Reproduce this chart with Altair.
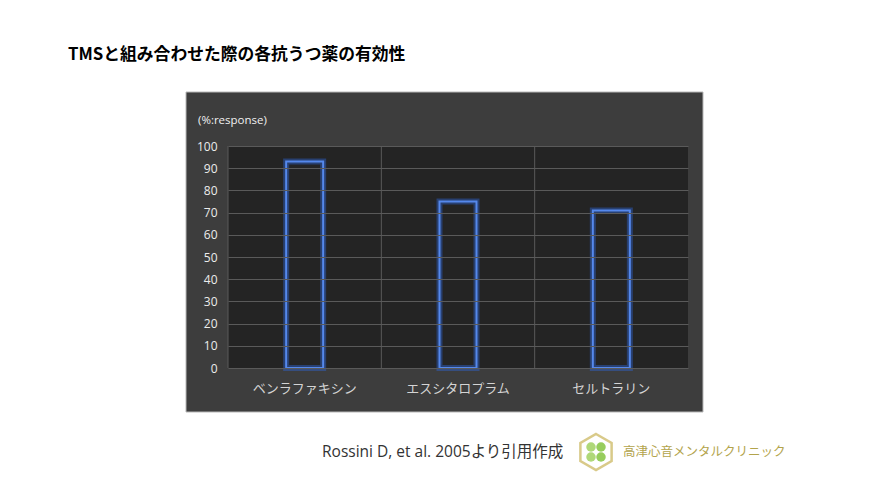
import altair as alt
import pandas as pd

# ---- data ----
drugs = ["ベンラファキシン", "エスシタロプラム", "セルトラリン"]
response = [93, 75, 71]
y_ticks = [0, 10, 20, 30, 40, 50, 60, 70, 80, 90, 100]

title_text = "TMSと組み合わせた際の各抗うつ薬の有効性"
unit_text = "(%:response)"
source_text = "Rossini D, et al. 2005より引用作成"
clinic_text = "高津心音メンタルクリニック"

df = pd.DataFrame({"drug": drugs, "value": response})
one = pd.DataFrame({"a": [0]})

W, H = 460, 222
FONT = "Noto Sans CJK JP"
LFONT = "Open Sans, Noto Sans CJK JP"

xscale = alt.Scale(domain=drugs, paddingInner=0, paddingOuter=0)
xenc = alt.X("drug:N", sort=drugs, scale=xscale,
             axis=alt.Axis(title=None, labelAngle=0, labelFontSize=13, labelColor="#d4d4d4",
                           labelPadding=14, domain=False, ticks=False, grid=False,
                           labelAlign="center", labelBaseline="top",
                           labelFont=FONT, zindex=2))
yenc = alt.Y("value:Q", scale=alt.Scale(domain=[0, 100], nice=False),
             axis=alt.Axis(title=None, values=y_ticks, labelFontSize=12, labelColor="#ececec",
                           labelPadding=11, domain=False, ticks=False, grid=True,
                           gridColor="#5a5a5a", gridWidth=1, zindex=1, labelFont=LFONT))

panel = alt.Chart(one).mark_rect(fill="#3d3d3d", stroke="#b8b8b8", strokeWidth=1).encode(
    x=alt.value(-42), x2=alt.value(475), y=alt.value(-54), y2=alt.value(266))
plotbg = alt.Chart(one).mark_rect(fill="#242424").encode(
    x=alt.value(0), x2=alt.value(W), y=alt.value(0), y2=alt.value(H))

glow = alt.Chart(df).mark_bar(size=37, fill=None, fillOpacity=0, stroke="#2f63d0",
                              strokeWidth=6, strokeOpacity=0.45).encode(x=xenc, y=yenc)
bars = alt.Chart(df).mark_bar(size=37, fill=None, fillOpacity=0, stroke="#5588ec",
                              strokeWidth=2).encode(x=xenc, y=yenc)
main = alt.layer(glow, bars)

vrules = alt.Chart(df).mark_rule(color="#5a5a5a", strokeWidth=1).encode(
    x=alt.X("drug:N", sort=drugs, scale=xscale, bandPosition=0, axis=None),
    y=alt.value(0), y2=alt.value(H))

def txt(t, x, y, size, color, weight="normal", align="left", font=FONT):
    return alt.Chart(pd.DataFrame({"t": [t]})).mark_text(
        align=align, baseline="middle", fontSize=size, color=color, fontWeight=weight, font=font
    ).encode(text="t:N", x=alt.value(x), y=alt.value(y))

title = txt(title_text, -160, -91, 16.8, "#000000", "bold")
unit = txt(unit_text, -30, -25, 11.5, "#f0f0f0", font=LFONT)
source = txt(source_text, 94, 306, 15.5, "#333333", font=LFONT)
clinic = txt(clinic_text, 395, 306, 12.5, "#b3a44c")

hexagon = alt.Chart(one).mark_point(
    shape="M0,-1L0.866,-0.5L0.866,0.5L0,1L-0.866,0.5L-0.866,-0.5Z",
    size=1300, filled=False, stroke="#c9b458", strokeWidth=2.5
).encode(x=alt.value(368), y=alt.value(306))
clover1 = alt.Chart(one).mark_point(filled=True, size=90, color="#a6d46a", opacity=0.9).encode(
    x=alt.value(363), y=alt.value(301))
clover2 = alt.Chart(one).mark_point(filled=True, size=90, color="#8cc84b", opacity=0.9).encode(
    x=alt.value(373), y=alt.value(301))
clover3 = alt.Chart(one).mark_point(filled=True, size=90, color="#a6d46a", opacity=0.9).encode(
    x=alt.value(363), y=alt.value(311))
clover4 = alt.Chart(one).mark_point(filled=True, size=90, color="#8cc84b", opacity=0.9).encode(
    x=alt.value(373), y=alt.value(311))

chart = alt.layer(
    panel, plotbg, vrules, main, title, unit, source, clinic,
    hexagon, clover1, clover2, clover3, clover4
).resolve_scale(x="independent").properties(
    width=W, height=H,
    autosize=alt.AutoSizeParams(type="none"),
    padding={"left": 220, "top": 138, "right": 192, "bottom": 122},
    background="#ffffff"
).configure_view(stroke=None)

chart.save("out.html", embed_options={"renderer": "svg", "actions": False})
